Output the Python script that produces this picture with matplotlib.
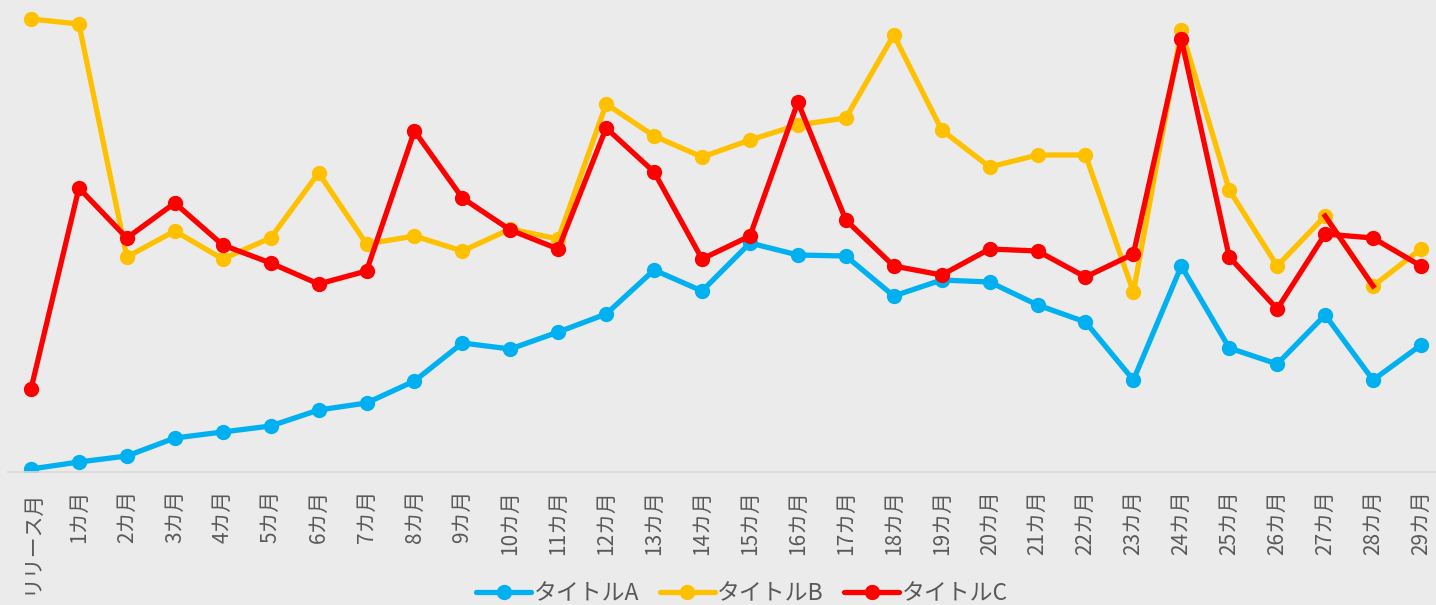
import matplotlib.pyplot as plt

plt.rcParams['font.family'] = ['Noto Sans CJK JP', 'DejaVu Sans']

labels = ['リリース月'] + [f'{i}カ月' for i in range(1, 30)]

# values (arbitrary units, 0 = axis line)
title_a = [3, 10, 16, 34, 40, 46, 62, 69, 91, 129, 123, 140, 158, 202, 181, 229,
           217, 216, 176, 192, 190, 167, 150, 92, 206, 124, 108, 157, 92, 127]
title_b = [453, 448, 215, 241, 213, 234, 299, 228, 236, 221, 243, 233, 368, 336,
           315, 332, 347, 354, 437, 342, 305, 317, 317, 180, 442, 282, 206, 256, 186, 223]
title_c = [83, 284, 234, 269, 227, 209, 188, 201, 341, 274, 242, 223, 344, 300,
           213, 236, 370, 252, 206, 197, 223, 221, 195, 218, 433, 215, 163, 238, 234, 206]

bg = '#EBEBEB'
fig = plt.figure(figsize=(14.36, 6.05), dpi=100, facecolor=bg)
ax = fig.add_axes([8 / 1436, 1 - 472 / 605, 1428 / 1436, 472 / 605])
ax.set_facecolor(bg)

x = list(range(len(labels)))
style = dict(lw=3.8, marker='o', markersize=10, solid_capstyle='round')
ax.plot(x, title_a, color='#00B0F0', label='タイトルA', **style)
ax.plot(x, title_b, color='#FFC000', label='タイトルB', **style)
ax.plot(x, title_c, color='#FF0000', label='タイトルC', **style)
# one segment of B is drawn red in the original
ax.plot(x[27:29], title_b[27:29], color='#FF0000', lw=3.8, zorder=3.5)

ax.set_xlim(-23 / 47.93, 1405 / 47.93)
ax.set_ylim(0, 472)
ax.set_yticks([])
ax.set_xticks(x)
ax.set_xticklabels(labels, rotation=90, fontsize=15, color='#595959')
ax.tick_params(axis='x', length=0, pad=13)
for s in ['top', 'right', 'left']:
    ax.spines[s].set_visible(False)
ax.spines['bottom'].set_color('#D9D9D9')
ax.spines['bottom'].set_linewidth(1.2)

fig.legend(loc='center', bbox_to_anchor=(742 / 1436, 1 - 594 / 605), ncol=3,
           frameon=False, fontsize=16.5, labelcolor='#595959', handlelength=2.4,
           handletextpad=0.1, columnspacing=0.9)

fig.savefig('out.png', dpi=100, facecolor=bg)
